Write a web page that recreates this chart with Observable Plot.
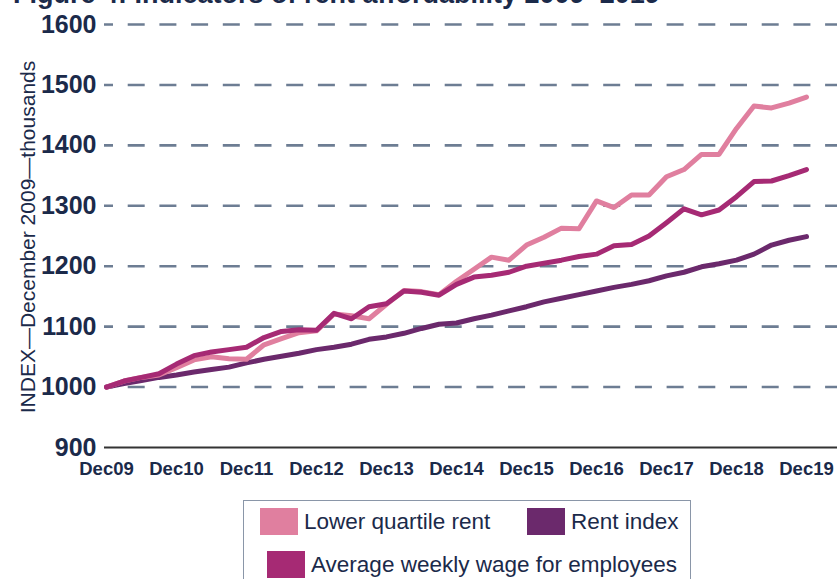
<!DOCTYPE html>
<html>
<head>
<meta charset="utf-8">
<script src="https://cdn.jsdelivr.net/npm/d3@7"></script>
<script src="https://cdn.jsdelivr.net/npm/@observablehq/plot@0.6"></script>
<style>
  html, body { margin: 0; padding: 0; background: #fff; }
  body { width: 837px; height: 579px; overflow: hidden; position: relative;
         font-family: "Liberation Sans", Arial, sans-serif; color: #1b2a4a; }
  #title { position: absolute; left: 13px; top: -20px; font-size: 27px; font-weight: bold; white-space: nowrap; line-height: 28px; color: #1b2a4a; }
  #chart { position: absolute; left: 0; top: 0; }
  #ylabel { position: absolute; left: 28px; top: 237px; transform: translate(-50%, -50%) rotate(-90deg); font-size: 21px; white-space: nowrap; }
  #legend { position: absolute; left: 243px; top: 500px; width: 448px; height: 100px; border: 1.5px solid #8a96a8; box-sizing: border-box; }
  .item { position: absolute; display: flex; align-items: center; font-size: 22.5px; white-space: nowrap; }
  .sw { width: 38px; height: 27px; margin-right: 6px; }
</style>
</head>
<body>
<div id="title">Figure 4: Indicators of rent affordability  2009–2019</div>
<div id="chart"></div>
<div id="ylabel">INDEX—December 2009—thousands</div>
<div id="legend"></div>
<script>
// Quarterly index values, Dec 2009 = 1000 (index 0 = Dec09 ... 40 = Dec19)
const lowerQuartileRent = [1000,1010,1016,1020,1032,1045,1050,1047,1046,1070,1080,1090,1093,1121,1118,1113,1137,1160,1158,1153,1175,1195,1215,1210,1235,1248,1263,1262,1308,1297,1318,1318,1348,1360,1385,1385,1428,1465,1462,1470,1480];
const rentIndex = [1000,1006,1011,1016,1020,1025,1029,1033,1040,1046,1051,1056,1062,1066,1071,1079,1083,1089,1097,1104,1106,1113,1119,1126,1133,1141,1147,1153,1159,1165,1170,1176,1184,1190,1199,1204,1210,1220,1235,1243,1249];
const weeklyWage = [1000,1010,1016,1022,1038,1052,1058,1062,1066,1082,1092,1095,1094,1122,1113,1133,1138,1159,1157,1152,1170,1182,1185,1190,1200,1205,1210,1216,1220,1234,1236,1250,1272,1295,1285,1293,1315,1340,1341,1350,1360];
const xTickLabels = ["Dec09","Dec10","Dec11","Dec12","Dec13","Dec14","Dec15","Dec16","Dec17","Dec18","Dec19"];
const yTicks = [900,1000,1100,1200,1300,1400,1500,1600];
const seriesNames = ["Lower quartile rent", "Rent index", "Average weekly wage for employees"];
const seriesColors = ["#e07f9f", "#6b296c", "#a62a74"];

const toRows = (arr, name) => arr.map((v, i) => ({q: i, v, name}));
const rowsLQ = toRows(lowerQuartileRent, seriesNames[0]);
const rowsRI = toRows(rentIndex, seriesNames[1]);
const rowsWW = toRows(weeklyWage, seriesNames[2]);
const xTicks = xTickLabels.map((_, i) => i * 4);

const plot = Plot.plot({
  width: 837,
  height: 500,
  marginLeft: 104,
  marginRight: 0,
  marginTop: 24,
  marginBottom: 53,
  style: { fontFamily: '"Liberation Sans", Arial, sans-serif', color: "#1b2a4a", background: "transparent" },
  x: { domain: [0, 40], range: [106, 806] },
  y: { domain: [900, 1600] },
  marks: [
    Plot.ruleY(yTicks.filter(d => d > 900), { stroke: "#6d7d93", strokeWidth: 2.6, strokeDasharray: "17,14.7", strokeDashoffset: 8 }),
    Plot.ruleY([900], { stroke: "#333", strokeWidth: 2 }),
    Plot.axisY(yTicks, { tickSize: 0, tickPadding: 8, fontSize: 25, fontWeight: "bold", label: null, tickFormat: (d) => String(d) }),
    Plot.axisX(xTicks, { tickSize: 0, tickPadding: 14, fontSize: 18.5, fontWeight: "bold", label: null, tickFormat: (d) => xTickLabels[d / 4] }),
    Plot.line(rowsRI, { x: "q", y: "v", stroke: seriesColors[1], strokeWidth: 5, strokeLinejoin: "round", strokeLinecap: "round" }),
    Plot.line(rowsLQ, { x: "q", y: "v", stroke: seriesColors[0], strokeWidth: 5, strokeLinejoin: "round", strokeLinecap: "round" }),
    Plot.line(rowsWW, { x: "q", y: "v", stroke: seriesColors[2], strokeWidth: 5, strokeLinejoin: "round", strokeLinecap: "round" })
  ]
});
document.getElementById("chart").appendChild(plot);

// Legend
const legend = document.getElementById("legend");
const pos = [{left: 16, top: 7}, {left: 283, top: 7}, {left: 23, top: 50}];
seriesNames.forEach((name, i) => {
  const it = document.createElement("div");
  it.className = "item";
  it.style.left = pos[i].left + "px";
  it.style.top = pos[i].top + "px";
  const sw = document.createElement("div");
  sw.className = "sw";
  sw.style.background = seriesColors[i];
  const tx = document.createElement("span");
  tx.textContent = name;
  it.appendChild(sw);
  it.appendChild(tx);
  legend.appendChild(it);
});
</script>
</body>
</html>
